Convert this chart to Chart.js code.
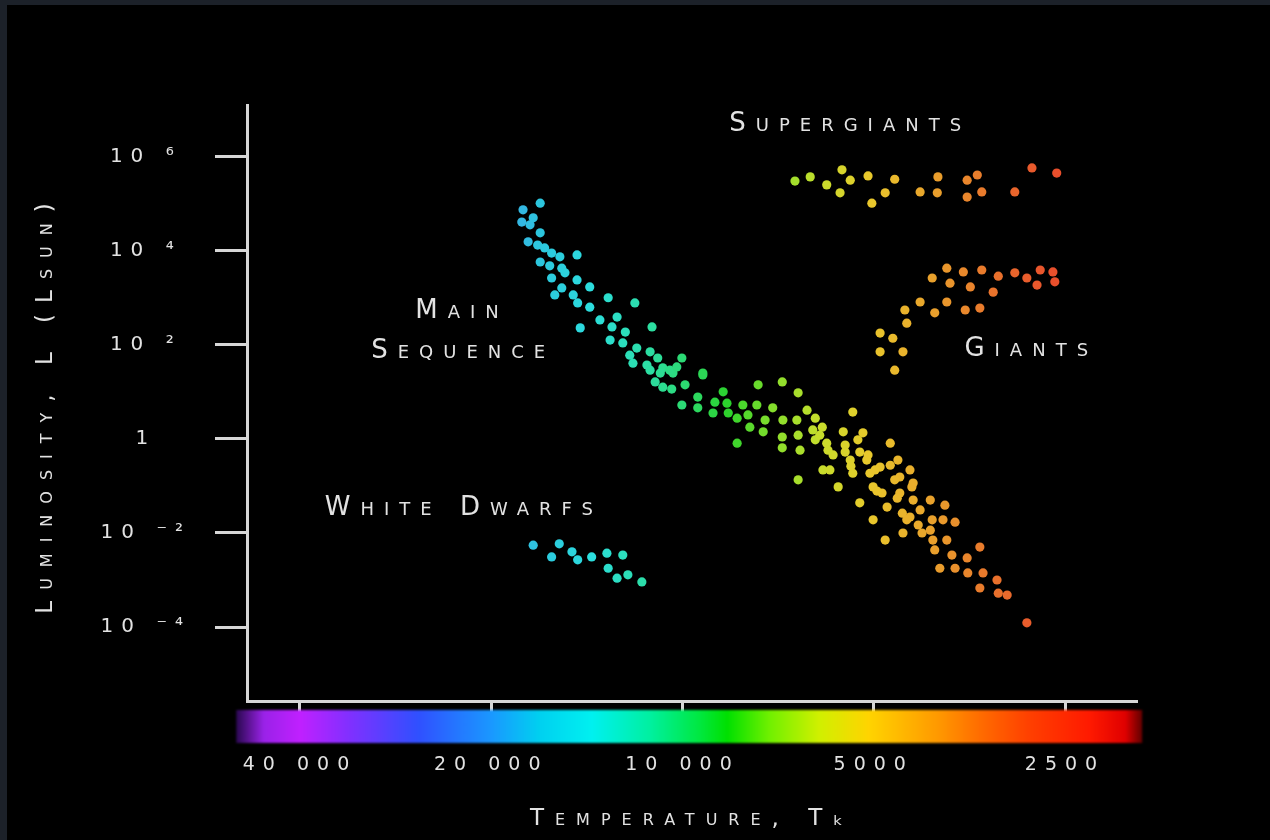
<!DOCTYPE html>
<html>
<head>
<meta charset="utf-8">
<title>Hertzsprung-Russell diagram</title>
<script src="https://cdn.jsdelivr.net/npm/chart.js@4.4.1/dist/chart.umd.min.js"></script>
<style>
  html, body { margin: 0; padding: 0; }
  body { width: 1270px; height: 840px; background: #1c2129; overflow: hidden; position: relative; }
  #frame { position: absolute; left: 7px; top: 5px; width: 1263px; height: 835px; background: #000; }
</style>
</head>
<body>
<div id="frame"><canvas id="hr"></canvas></div>
<script>
// temperature axis (K), hot on the left like the original
var tempTicks = [40000, 20000, 10000, 5000, 2500];
var tempTickLabels = ["40 000", "20 000", "10 000", "5000", "2500"];
// luminosity axis (in solar units)
var lumTicks = [1e-4, 1e-2, 1, 1e2, 1e4, 1e6];
var lumTickLabels = ["10 ⁻⁴", "10 ⁻²", "1", "10 ²", "10 ⁴", "10 ⁶"];

// stars, as log10(T) and log10(L)
var mainLogT = [4.224, 4.251, 4.253, 4.240, 4.224, 4.243, 4.228, 4.217, 4.206, 4.193,
                4.166, 4.224, 4.209, 4.190, 4.206, 4.185, 4.166, 4.146, 4.190, 4.201,
                4.172, 4.165, 4.146, 4.117, 4.075, 4.130, 4.161, 4.103, 4.111, 4.090,
                4.048, 4.114, 4.094, 4.072, 4.083, 4.051, 4.039, 4.001, 4.056, 4.031,
                4.015, 3.968, 4.078, 4.051, 4.035, 4.020, 4.009, 4.043, 4.031, 4.017,
                3.996, 3.968, 4.001, 3.976, 3.976, 3.949, 3.936, 3.930, 3.928, 3.952,
                3.914, 3.905, 3.897, 3.894, 3.881, 3.883, 3.870, 3.873, 3.858, 3.843,
                3.842, 3.843, 3.843, 3.818, 3.820, 3.818, 3.815, 3.804, 3.791, 3.795,
                3.791, 3.780, 3.773, 3.779, 3.768, 3.763, 3.755, 3.747, 3.732, 3.744,
                3.736, 3.732, 3.716, 3.721, 3.710, 3.705, 3.700, 3.721, 3.700, 3.689,
                3.686, 3.678, 3.681, 3.673, 3.661, 3.658, 3.658, 3.654, 3.653, 3.642,
                3.639, 3.637, 3.642, 3.626, 3.623, 3.610, 3.607, 3.606, 3.914, 3.818,
                3.662, 3.637, 3.647, 3.629, 3.587, 3.610, 3.590, 3.571, 3.584, 3.603,
                3.576, 3.552, 3.532, 3.595, 3.571, 3.551, 3.527, 3.532, 3.505, 3.503,
                3.489, 3.458, 3.784, 3.771, 3.744, 3.735, 3.708, 3.697, 3.694, 3.673,
                3.666, 3.724, 4.235];
var mainLogL = [5.01, 4.87, 4.61, 4.55, 4.38, 4.19, 4.12, 4.06, 3.95, 3.87,
                3.91, 3.76, 3.68, 3.63, 3.42, 3.53, 3.38, 3.23, 3.21, 3.06,
                3.06, 2.89, 2.80, 3.00, 2.89, 2.53, 2.36, 2.59, 2.38, 2.27,
                2.38, 2.10, 2.04, 1.93, 1.78, 1.85, 1.72, 1.72, 1.57, 1.51,
                1.40, 1.40, 1.61, 1.46, 1.40, 1.46, 1.53, 1.21, 1.10, 1.06,
                1.15, 1.36, 0.72, 0.89, 0.66, 0.78, 1.00, 0.76, 0.55, 0.55,
                0.44, 0.72, 0.51, 0.25, 1.15, 0.72, 0.40, 0.15, 0.66, 1.21,
                0.40, 0.04, -0.19, 0.98, 0.40, 0.08, -0.24, 0.61, 0.44, 0.19,
                -0.02, 0.25, -0.09, -0.66, -0.66, -0.34, -1.02, 0.15, 0.57, -0.13,
                -0.45, -0.73, 0.13, -0.28, -0.45, -0.73, -1.02, -1.36, -1.72, -0.60,
                -1.15, -1.45, -2.15, -0.09, -0.45, -0.81, -1.15, -1.58, -2.00, -0.66,
                -1.02, -1.30, -1.66, -1.51, -2.00, -1.30, -1.72, -2.15, -0.09, -0.87,
                -1.26, -0.94, -1.72, -1.83, -1.41, -1.94, -1.72, -1.77, -2.15, -2.36,
                -2.47, -2.53, -2.30, -2.75, -2.75, -2.85, -2.85, -3.17, -3.00, -3.28,
                -3.32, -3.91, 0.08, -0.24, -0.28, -0.58, -0.34, -0.66, -1.11, -0.56,
                -0.87, -0.02, 4.70];

var superLogT = [3.823, 3.799, 3.773, 3.749, 3.736, 3.752, 3.708, 3.702, 3.681, 3.666,
                 3.626, 3.598, 3.599, 3.552, 3.536, 3.552, 3.529, 3.477, 3.450, 3.411];
var superLogL = [5.48, 5.57, 5.40, 5.72, 5.50, 5.23, 5.59, 5.01, 5.23, 5.52,
                 5.25, 5.57, 5.23, 5.50, 5.61, 5.14, 5.25, 5.25, 5.76, 5.65];

var giantLogT = [3.584, 3.607, 3.558, 3.529, 3.503, 3.477, 3.458, 3.437, 3.442, 3.417,
                 3.414, 3.579, 3.547, 3.511, 3.626, 3.584, 3.555, 3.532, 3.603, 3.650,
                 3.647, 3.689, 3.669, 3.689, 3.653, 3.666];
var giantLogL = [3.63, 3.42, 3.55, 3.59, 3.46, 3.53, 3.42, 3.59, 3.27, 3.55,
                 3.34, 3.31, 3.23, 3.12, 2.91, 2.91, 2.74, 2.78, 2.68, 2.74,
                 2.46, 2.25, 2.14, 1.85, 1.85, 1.46];

var dwarfLogT = [4.235, 4.194, 4.206, 4.174, 4.165, 4.143, 4.119, 4.117, 4.094, 4.103,
                 4.086, 4.064];
var dwarfLogL = [-2.26, -2.23, -2.51, -2.40, -2.57, -2.51, -2.43, -2.75, -2.47, -2.96,
                 -2.89, -3.04];

// region names and where they sit (log T, log L of the text baseline)
var regionNames = ["Supergiants", "Main", "Sequence", "Giants", "White Dwarfs"];
var regionLogT = [3.744, 4.355, 4.353, 3.459, 4.352];
var regionLogL = [6.545, 2.570, 1.720, 1.762, -1.618];

// colour band under the temperature axis
var bandTemps = [50400, 45600, 40000, 33400, 26100, 20000, 16800, 13900, 11250, 9400,
                 8500, 7300, 6100, 5100, 3950, 3400, 2850, 2290, 2010, 1890];
var bandColors = ["#2a0850", "#9a22e8", "#c020ff", "#8030ff", "#3050ff", "#1a98ff", "#00d0f0", "#00f0f0", "#00f0a0", "#00e840",
                  "#00e000", "#70f000", "#d0f000", "#ffd400", "#ff9800", "#ff6c00", "#ff4000", "#ff1a00", "#e00000", "#600000"];

var textColor = "#e2e2e2";
var axisColor = "#d6d6d6";
var fontFamily = "'DejaVu Sans', sans-serif";

function toPoints(logT, logL) {
    return logT.map(function (t, i) { return { x: Math.pow(10, t), y: Math.pow(10, logL[i]) }; });
}

function hexRgb(h) {
    return [parseInt(h.substr(1, 2), 16), parseInt(h.substr(3, 2), 16), parseInt(h.substr(5, 2), 16)];
}

function bandColor(t) {
    var lt = Math.log10(t);
    for (var i = 0; i < bandTemps.length - 1; i++) {
        var a = Math.log10(bandTemps[i]), b = Math.log10(bandTemps[i + 1]);
        if (lt <= a && lt >= b) {
            var f = (a - lt) / (a - b), c1 = hexRgb(bandColors[i]), c2 = hexRgb(bandColors[i + 1]);
            return [0, 1, 2].map(function (k) { return c1[k] + (c2[k] - c1[k]) * f; });
        }
    }
    return hexRgb(bandColors[0]);
}

// stars are a little softer than the band
function starColor(ctx) {
    var c = bandColor(ctx.raw ? ctx.raw.x : 6000);
    var m = c.map(function (v) { return Math.round(v * 0.74 + 170 * 0.26); });
    return "rgb(" + m.join(",") + ")";
}

function withSpacing(ctx, ls, fn) {
    var old = ctx.letterSpacing;
    ctx.letterSpacing = ls;
    fn();
    ctx.letterSpacing = old;
}

var spacingPlugin = {
    id: "spacing",
    beforeDraw: function (chart) {
        Object.values(chart.scales).forEach(function (s) {
            if (s._spaced) return;
            var drawTitle = s.drawTitle, drawLabels = s.drawLabels;
            s.drawTitle = function () { var me = this; withSpacing(me.ctx, "11px", function () { drawTitle.call(me); }); };
            s.drawLabels = function (area) { var me = this; withSpacing(me.ctx, "8px", function () { drawLabels.call(me, area); }); };
            s._spaced = true;
        });
    }
};

var bandPlugin = {
    id: "band",
    beforeDatasetsDraw: function (chart) {
        var ctx = chart.ctx, x = chart.scales.x;
        var x0 = x.getPixelForValue(bandTemps[0]), x1 = x.getPixelForValue(bandTemps[bandTemps.length - 1]);
        var g = ctx.createLinearGradient(x0, 0, x1, 0);
        bandTemps.forEach(function (t, i) {
            g.addColorStop(Math.min(1, Math.max(0, (x.getPixelForValue(t) - x0) / (x1 - x0))), bandColors[i]);
        });
        ctx.save();
        ctx.filter = "blur(1.2px)";
        ctx.fillStyle = g;
        ctx.fillRect(x0, x.top + 9, x1 - x0, 33);
        ctx.restore();
    }
};

var regionPlugin = {
    id: "regions",
    afterDatasetsDraw: function (chart) {
        var ctx = chart.ctx, x = chart.scales.x, y = chart.scales.y;
        ctx.save();
        ctx.font = "small-caps 26px " + fontFamily;
        ctx.letterSpacing = "10px";
        ctx.fillStyle = textColor;
        ctx.textAlign = "center";
        ctx.textBaseline = "alphabetic";
        regionNames.forEach(function (name, i) {
            ctx.fillText(name, x.getPixelForValue(Math.pow(10, regionLogT[i])) + 5,
                         y.getPixelForValue(Math.pow(10, regionLogL[i])));
        });
        ctx.restore();
    }
};

function starSet(label, logT, logL) {
    return {
        label: label,
        data: toPoints(logT, logL),
        pointRadius: 4.6,
        pointBorderWidth: 0,
        pointBackgroundColor: starColor
    };
}

new Chart(document.getElementById("hr"), {
    type: "scatter",
    data: {
        datasets: [
            starSet("Main sequence", mainLogT, mainLogL),
            starSet("Supergiants", superLogT, superLogL),
            starSet("Giants", giantLogT, giantLogL),
            starSet("White dwarfs", dwarfLogT, dwarfLogL)
        ]
    },
    options: {
        responsive: true,
        maintainAspectRatio: false,
        animation: false,
        events: [],
        layout: { padding: { top: 100, right: 133, left: 0, bottom: 0 } },
        plugins: { legend: { display: false }, tooltip: { enabled: false } },
        scales: {
            x: {
                type: "logarithmic",
                reverse: true,
                bounds: "data",
                min: 1926,
                max: 48470,
                afterBuildTicks: function (s) { s.ticks = tempTicks.map(function (v) { return { value: v }; }); },
                afterFit: function (s) { s.height = 139; },
                border: { display: true, color: axisColor, width: 3 },
                grid: { drawOnChartArea: false, drawTicks: true, tickLength: 11, tickWidth: 3, tickColor: axisColor },
                ticks: {
                    autoSkip: false, maxRotation: 0, minRotation: 0, padding: 42,
                    color: textColor, font: { family: fontFamily, size: 19 },
                    callback: function (v) { return tempTickLabels[tempTicks.indexOf(v)]; }
                },
                title: {
                    display: true, text: "Temperature, Tₖ", color: textColor,
                    font: { family: fontFamily, size: 23, weight: "small-caps" },
                    padding: { top: 0, bottom: 7 }
                }
            },
            y: {
                type: "logarithmic",
                bounds: "data",
                min: 2.68e-6,
                max: 1.253e7,
                afterBuildTicks: function (s) { s.ticks = lumTicks.map(function (v) { return { value: v }; }); },
                afterFit: function (s) { s.width = 240; },
                border: { display: true, color: axisColor, width: 3 },
                grid: { drawOnChartArea: false, drawTicks: true, tickLength: 32, tickWidth: 3, tickColor: axisColor },
                ticks: {
                    autoSkip: false, crossAlign: "center", padding: 44,
                    color: textColor, font: { family: fontFamily, size: 20 },
                    callback: function (v) { return lumTickLabels[lumTicks.indexOf(v)]; }
                },
                title: {
                    display: true, text: "Luminosity, L (Lsun)", color: textColor,
                    font: { family: fontFamily, size: 23, weight: "small-caps" },
                    padding: { top: 25, bottom: 0 }
                }
            }
        }
    },
    plugins: [spacingPlugin, bandPlugin, regionPlugin]
});
</script>
</body>
</html>
